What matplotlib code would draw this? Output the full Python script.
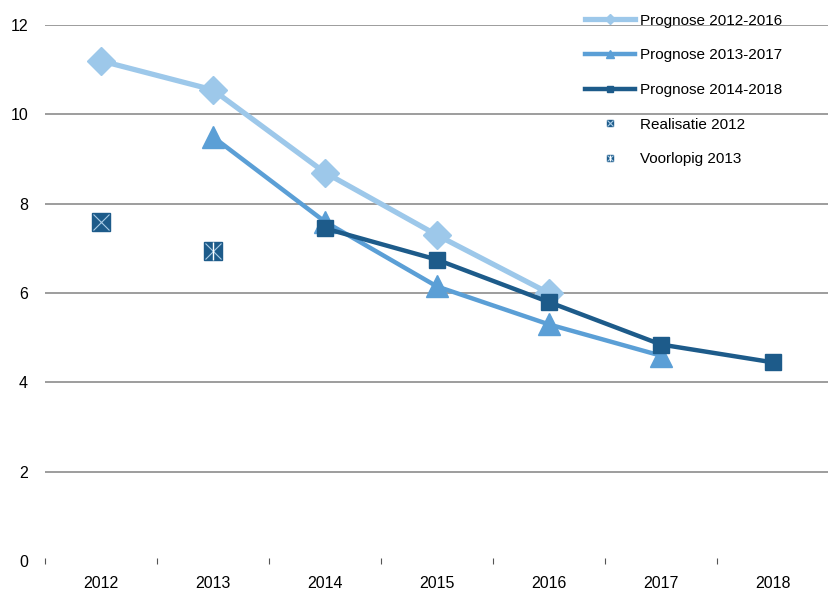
import matplotlib
matplotlib.use('Agg')
import matplotlib.pyplot as plt
from matplotlib.legend_handler import HandlerTuple

plt.rcParams['font.family'] = ['Liberation Sans', 'DejaVu Sans']

years = ['2012', '2013', '2014', '2015', '2016', '2017', '2018']
prog_2012 = [11.2, 10.55, 8.7, 7.3, 6.0]          # 2012-2016
prog_2013 = [9.5, 7.6, 6.15, 5.3, 4.6]            # 2013-2017
prog_2014 = [7.45, 6.75, 5.8, 4.85, 4.45]         # 2014-2018
real_2012 = 7.6
voorl_2013 = 6.95

c_light = '#9DC8EA'
c_mid = '#5B9FD6'
c_dark = '#1D5B8A'

fig = plt.figure(figsize=(8.29, 5.97), dpi=100)
ax = fig.add_axes([0.054, 0.06, 0.946, 0.898])

x = list(range(len(years)))
ax.plot(x[0:5], prog_2012, color=c_light, lw=3.8, marker='D', ms=14,
        label='Prognose 2012-2016', zorder=3)
ax.plot(x[1:6], prog_2013, color=c_mid, lw=3.2, marker='^', ms=16,
        label='Prognose 2013-2017', zorder=4)
ax.plot(x[2:7], prog_2014, color=c_dark, lw=3.2, marker='s', ms=12,
        label='Prognose 2014-2018', zorder=5)

# single-point markers: dark square with a light cross
r1, = ax.plot([x[0]], [real_2012], ls='none', marker='s', ms=13, color=c_dark, zorder=5)
r1x, = ax.plot([x[0]], [real_2012], ls='none', marker='x', ms=12, mew=0.8,
               color='#A9CBE6', zorder=6)
v1, = ax.plot([x[1]], [voorl_2013], ls='none', marker='s', ms=13, color=c_dark, zorder=5)
v1x, = ax.plot([x[1]], [voorl_2013], ls='none', marker='x', ms=12, mew=0.8,
               color='#A9CBE6', zorder=6)
v1b, = ax.plot([x[1]], [voorl_2013], ls='none', marker='|', ms=13, mew=1.0,
               color='white', zorder=6)

ax.set_xlim(-0.5, 6.5)
ax.set_ylim(0, 12)
ax.set_yticks(range(0, 13, 2))
ax.set_xticks([i + 0.5 for i in range(-1, 7)], minor=False)
ax.set_xticklabels([''] * 8)
ax.set_xticks(x, minor=True)
ax.set_xticklabels(years, minor=True)
ax.tick_params(axis='x', which='major', length=5, width=0.8, color='#555555',
               direction='inout')
ax.tick_params(axis='x', which='minor', length=0, pad=11, labelsize=11.5)
ax.tick_params(axis='y', length=0, pad=12, labelsize=11.5)

for s in ax.spines.values():
    s.set_visible(False)
ax.grid(axis='y', color='#8C8C8C', lw=1.2)
ax.set_axisbelow(True)
ax.yaxis.get_gridlines()[0].set_visible(False)

handles, labels = ax.get_legend_handles_labels()
h_real = (r1, r1x)
h_voorl = (v1, v1x, v1b)
leg = ax.legend(handles[:3] + [h_real, h_voorl],
                labels[:3] + ['Realisatie 2012', 'Voorlopig 2013'],
                handler_map={tuple: HandlerTuple(ndivide=1)},
                loc='upper left', bbox_to_anchor=(0.671, 1.047),
                frameon=False, fontsize=11, handlelength=3.3,
                labelspacing=1.35, markerscale=0.35, handletextpad=0.3)

fig.savefig('out.png', dpi=100)
